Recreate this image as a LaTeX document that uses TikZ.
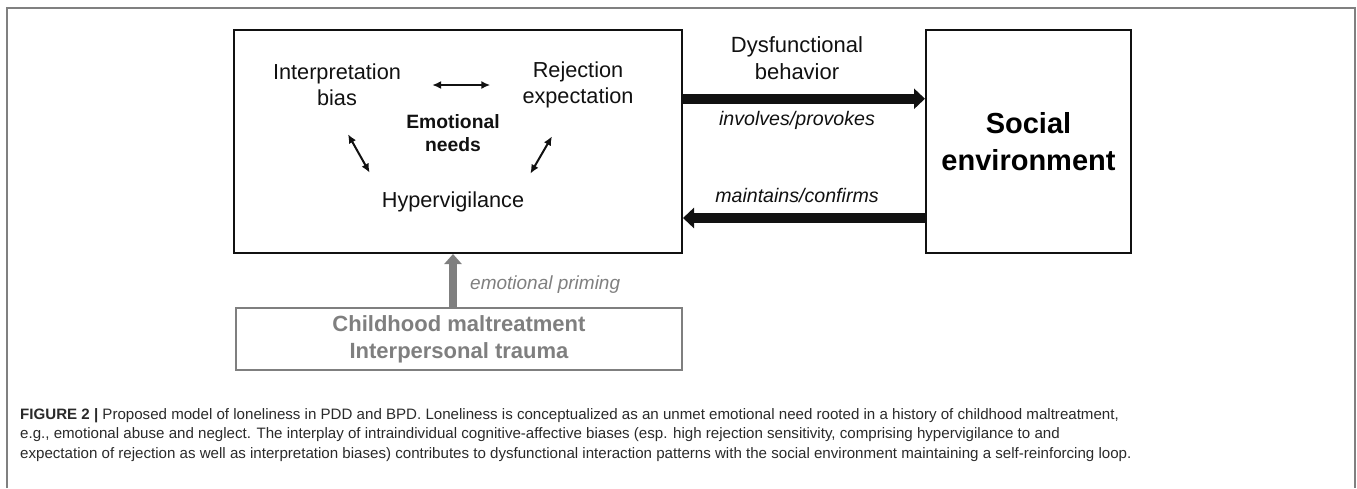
\documentclass[tikz,border=0pt]{standalone}
\usepackage{fontspec}
\setmainfont{Liberation Sans}
\usepackage{tikz}
\usetikzlibrary{positioning, arrows.meta, calc}
\usepackage{xcolor}
\definecolor{lonelyInk}{HTML}{111111}
\definecolor{lonelyGray}{HTML}{7F7F7F}
\definecolor{lonelyFrame}{HTML}{808080}
\definecolor{lonelyCaption}{HTML}{2A2A2A}

\begin{document}
\begin{tikzpicture}[x=1pt, y=-1pt,
    modelbox/.style={draw=lonelyInk, line width=2pt, inner sep=0pt},
    plain/.style={align=center, inner sep=0pt, text=lonelyInk, font=\fontsize{21.7}{26}\selectfont},
    cue/.style={inner sep=0pt, text=lonelyInk, font=\fontsize{19.6}{24}\selectfont\itshape},
    duo/.style={{Latex[length=9pt,width=8pt]}-{Latex[length=9pt,width=8pt]}, line width=2pt, draw=lonelyInk},
    fatarrow/.style={-{Triangle[length=11pt,width=20pt]}, line width=10pt, draw=lonelyInk}]
  \useasboundingbox (0,0) rectangle (1357,488);
  % outer frame
  \draw[lonelyFrame, line width=1.5pt] (7,488) -- (7,8) -- (1355,8) -- (1355,488);

  % inner world
  \node[modelbox, minimum width=448pt, minimum height=223pt] (inner) at (458,141.5) {};
  \node[plain] (interp) at (337,85) {Interpretation\\bias};
  \node[plain] (reject) at (578,85) {Rejection\\expectation};
  \node[plain, font=\fontsize{19.3}{23}\selectfont\bfseries] (needs) at (453,133.5) {Emotional\\needs};
  \node[plain] (hyper) at (453,202) {Hypervigilance};
  \draw[duo, shorten <=31pt, shorten >=32pt] (interp.east) -- (reject.west);
  \draw[duo] ($(interp.south)+(11,28)$) -- ($(hyper.north west)+(-12,-19)$);
  \draw[duo] ($(reject.south)+(-26,28)$) -- ($(hyper.north east)+(6,-18)$);

  % social side
  \node[modelbox, minimum width=205pt, minimum height=223pt, align=center,
        font=\fontsize{29}{37}\selectfont\bfseries] (social) at (1028.5,141.5) {Social\\environment};
  \draw[fatarrow] ($(inner.north east)!0.31!(inner.south east)$) -- ($(social.north west)!0.31!(social.south west)$);
  \draw[fatarrow] ($(social.north west)!0.84!(social.south west)$) -- ($(inner.north east)!0.84!(inner.south east)$);
  \node[plain, font=\fontsize{22}{27}\selectfont] (dysfun) at (797,58.5) {Dysfunctional\\behavior};
  \node[cue] (involves) at (797,120) {involves/provokes};
  \node[cue] (maintains) at (797,195) {maintains/confirms};

  % history
  \node[draw=lonelyGray, line width=2pt, minimum width=446pt, minimum height=62pt, inner sep=0pt,
        align=center, text=lonelyGray, font=\fontsize{22}{27}\selectfont\bfseries] (trauma) at (459,339)
        {Childhood maltreatment\\Interpersonal trauma};
  \draw[-{Triangle[length=10pt,width=17pt]}, line width=8pt, draw=lonelyGray] (hyper |- trauma.north) -- (hyper |- inner.south);
  \node[cue, text=lonelyGray, font=\fontsize{19}{23}\selectfont\itshape, anchor=west] (priming) at (470,285) {emotional priming};

  % caption
  \node[anchor=north west, align=left, inner sep=0pt, text=lonelyCaption,
        font=\fontsize{15.1}{19.5}\selectfont] (caption) at (20,408)
        {\textbf{FIGURE 2 |} Proposed model of loneliness in PDD and BPD. Loneliness is conceptualized as an unmet emotional need rooted in a history of childhood maltreatment,\\
         e.g., emotional abuse and neglect. The interplay of intraindividual cognitive-affective biases (esp. high rejection sensitivity, comprising hypervigilance to and\\
         expectation of rejection as well as interpretation biases) contributes to dysfunctional interaction patterns with the social environment maintaining a self-reinforcing loop.};
\end{tikzpicture}
\end{document}
